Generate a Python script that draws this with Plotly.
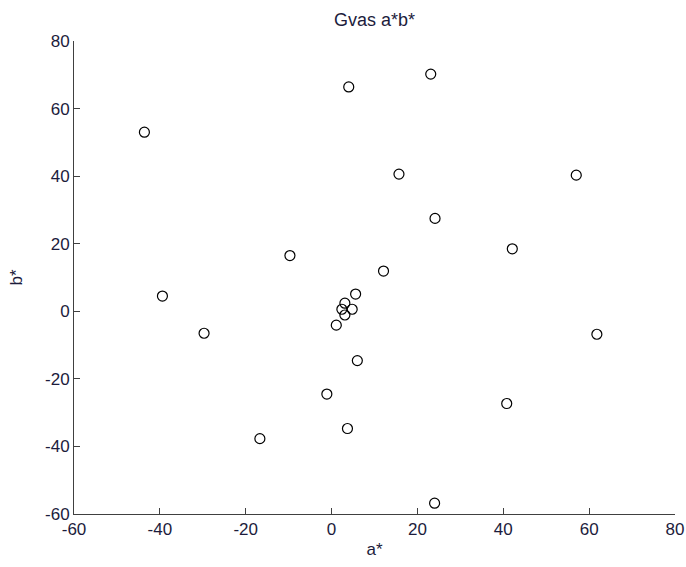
import plotly.graph_objects as go

a_star = [-43.6, -39.4, -29.7, -16.7, -9.7, -1.1, 4.0, 3.7, 6.0, 5.6, 12.1, 15.7, 23.1, 24.1, 24.0,
          42.1, 40.8, 57.0, 61.8, 3.1, 2.4, 4.8, 3.1, 1.1]
b_star = [53.0, 4.5, -6.5, -37.7, 16.5, -24.5, 66.4, -34.7, -14.6, 5.1, 11.9, 40.6, 70.2, 27.5, -56.8,
          18.5, -27.3, 40.3, -6.8, 2.4, 0.6, 0.6, -1.1, -4.1]

tick_vals = [-60, -40, -20, 0, 20, 40, 60, 80]

font_color = "#1c1c3c"
axis_color = "#404040"
fam = "Liberation Sans, Arial, sans-serif"

fig = go.Figure()
fig.add_trace(go.Scatter(
    x=a_star, y=b_star, mode="markers",
    marker=dict(symbol="circle-open", size=10, color="black", line=dict(width=1.2, color="black")),
    showlegend=False, cliponaxis=False,
))

axis_common = dict(
    range=[-60, 80], tickvals=tick_vals, ticktext=[str(v) for v in tick_vals],
    showgrid=False, zeroline=False, showline=True, linecolor=axis_color, linewidth=1,
    ticks="inside", ticklen=6, tickcolor=axis_color, tickwidth=1,
    tickfont=dict(family=fam, size=17, color=font_color),
    mirror=False, automargin=False, ticklabeloverflow="allow",
)

fig.update_layout(
    width=686, height=567,
    margin=dict(l=74, r=11, t=41, b=53),
    paper_bgcolor="white", plot_bgcolor="white",
    title=dict(text="Gvas a*b*", x=0.5, xref="paper", xanchor="center",
               y=1 - 20 / 567, yref="container", yanchor="middle",
               font=dict(family=fam, size=18, color=font_color)),
    xaxis=dict(**axis_common, title=dict(text="a*", standoff=4,
               font=dict(family=fam, size=17, color=font_color))),
    yaxis=dict(**axis_common, title=dict(text="b*", standoff=18,
               font=dict(family=fam, size=17, color=font_color))),
)

fig.write_html("out.html",
               config={"displayModeBar": False},
               post_script="document.body.style.margin='0';document.body.style.overflow='hidden';")
